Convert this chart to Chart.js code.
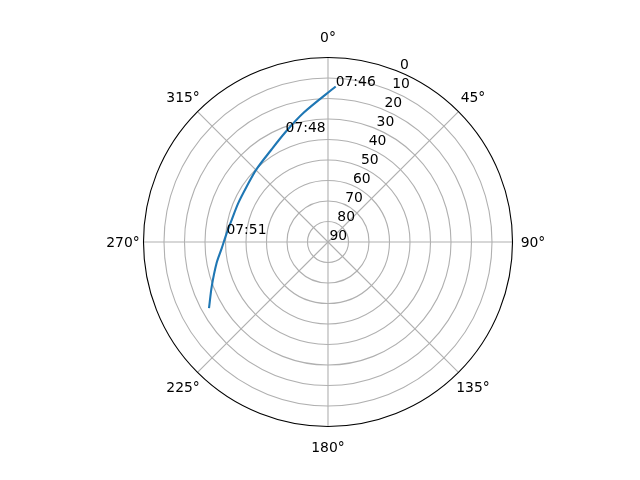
<!DOCTYPE html>
<html>
<head>
<meta charset="utf-8">
<script src="https://cdn.jsdelivr.net/npm/chart.js@4/dist/chart.umd.min.js"></script>
<style>
  body { margin: 0; background: #fff; }
  #wrap { width: 640px; height: 480px; }
</style>
</head>
<body>
<div id="wrap"><canvas id="myChart"></canvas></div>
<script>
// satellite pass, azimuth (deg, clockwise from north) and elevation (deg)
const azimuth   = [2.83, 349.3, 338.9, 327.8, 315.1, 304.3, 293.4, 283.0, 274.6, 266.7, 259.3, 249.1, 240.95];
const elevation = [14.05, 25.85, 32.5, 37.4, 40.3, 42.0, 42.3, 41.8, 40.3, 38.1, 34.7, 29.3, 23.6];
const timeLabels = ['07:46', '', '07:48', '', '', '', '', '', '07:51', '', '', '', ''];

const angleTicks = [0, 45, 90, 135, 180, 225, 270, 315];
const radialTicks = [0, 10, 20, 30, 40, 50, 60, 70, 80, 90];

const FONT = '13.9px "DejaVu Sans"';
const rad = (d) => d * Math.PI / 180;

// polar (az, el) -> cartesian, radius = 90 - elevation
const toXY = (az, el) => {
  let r = 90 - el;
  return { x: r * Math.sin(rad(az)), y: r * Math.cos(rad(az)) };
};
const points = azimuth.map((a, i) => toXY(a, elevation[i]));

const px = (chart, p) => ({
  x: chart.scales.x.getPixelForValue(p.x),
  y: chart.scales.y.getPixelForValue(p.y)
});

const polarGrid = {
  id: 'polarGrid',
  beforeDatasetsDraw(chart) {
    const ctx = chart.ctx;
    const c = px(chart, { x: 0, y: 0 });
    ctx.save();
    ctx.strokeStyle = '#b0b0b0';
    ctx.lineWidth = 1.1;
    // rings
    radialTicks.forEach((v) => {
      let r = 90 - v;
      if (r <= 0 || r >= 90) return;
      let edge = px(chart, { x: r, y: 0 });
      ctx.beginPath();
      ctx.arc(c.x, c.y, edge.x - c.x, 0, Math.PI * 2);
      ctx.stroke();
    });
    // spokes
    angleTicks.forEach((a) => {
      let e = px(chart, toXY(a, 0));
      ctx.beginPath();
      ctx.moveTo(c.x, c.y);
      ctx.lineTo(e.x, e.y);
      ctx.stroke();
    });
    ctx.restore();
  },
  afterDatasetsDraw(chart) {
    const ctx = chart.ctx;
    const c = px(chart, { x: 0, y: 0 });
    const outer = px(chart, { x: 90, y: 0 }).x - c.x;
    ctx.save();
    // outer spine
    ctx.strokeStyle = '#000';
    ctx.lineWidth = 1.1;
    ctx.beginPath();
    ctx.arc(c.x, c.y, outer, 0, Math.PI * 2);
    ctx.stroke();

    ctx.fillStyle = '#000';
    ctx.font = FONT;
    // angle labels
    ctx.textAlign = 'center';
    ctx.textBaseline = 'alphabetic';
    angleTicks.forEach((a) => {
      let lx = c.x + (outer + 20.5) * Math.sin(rad(a));
      let ly = c.y - (outer + 20.5) * Math.cos(rad(a));
      ctx.fillText(a + '°', lx, ly + 5);
    });
    // radial labels along 22.5 deg
    ctx.textAlign = 'left';
    radialTicks.forEach((v) => {
      let p = px(chart, toXY(22.5, v));
      ctx.fillText(String(v), p.x + 1.5, p.y - 2.5);
    });
    // time annotations
    timeLabels.forEach((t, i) => {
      if (!t) return;
      let p = px(chart, points[i]);
      ctx.fillText(t, p.x, p.y);
    });
    ctx.restore();
  }
};

new Chart('myChart', {
  type: 'scatter',
  data: {
    datasets: [{
      data: points,
      showLine: true,
      borderColor: '#1f77b4',
      borderWidth: 2.1,
      pointRadius: 0,
      tension: 0.3,
      fill: false
    }]
  },
  options: {
    responsive: true,
    maintainAspectRatio: false,
    animation: false,
    devicePixelRatio: 1,
    layout: { padding: { left: 143.5, right: 127.5, top: 57.5, bottom: 53.5 } },
    scales: {
      x: { type: 'linear', min: -90, max: 90, display: false },
      y: { type: 'linear', min: -90, max: 90, display: false }
    },
    plugins: { legend: { display: false }, tooltip: { enabled: false } }
  },
  plugins: [polarGrid]
});
</script>
</body>
</html>
